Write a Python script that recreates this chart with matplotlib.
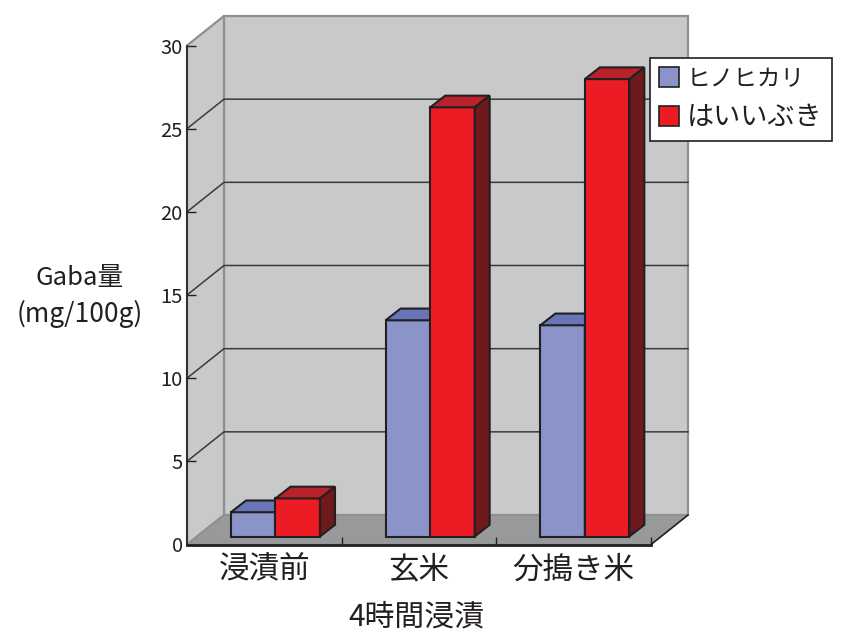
import matplotlib
matplotlib.use('Agg')
import matplotlib.pyplot as plt

plt.rcParams['font.family'] = ['Noto Sans CJK JP', 'DejaVu Sans']

#Chart values
categories = ['浸漬前', '玄米', '分搗き米']
series_names = ['ヒノヒカリ', 'はいいぶき']
hinohikari = [1.46, 13.0, 12.7]
haiibuki = [2.29, 25.8, 27.5]
y_ticks = [0, 5, 10, 15, 20, 25, 30]

#Figure size and pixel layout of the front plane
W, H = 845, 634
left, right, bottom, top = 187, 651, 544.5, 45.5
px_x = (right - left) / 3
px_y = (bottom - top) / 30

#Depth of the box and of the bars, in data units
depth_x, depth_y = 37 / px_x, 29.5 / px_y
base_y = 8 / px_y
bar_x, bar_y = 15 / px_x, 11.7 / px_y
bar_w = 44.5 / px_x
n = len(categories)

wall = '#c8c9cb'
floor = '#98999b'
edge = '#8e8f91'
dark = '#231f20'

fig = plt.figure(figsize=(W / 100, H / 100), dpi=100)
ax = fig.add_axes([left / W, 1 - bottom / H, (right - left) / W, (bottom - top) / H])
ax.patch.set_visible(False)
ax.set_xlim(0, n)
ax.set_ylim(0, 30)

#Walls and floor
ax.fill([depth_x, n + depth_x, n + depth_x, depth_x],
        [depth_y, depth_y, 30 + depth_y, 30 + depth_y],
        facecolor=wall, edgecolor=edge, lw=1.6, clip_on=False, zorder=0)
ax.fill([0, depth_x, depth_x, 0], [0, depth_y, 30 + depth_y, 30],
        facecolor=wall, edgecolor=edge, lw=1.6, clip_on=False, zorder=0)
ax.fill([0, n, n + depth_x, depth_x], [0, 0, depth_y, depth_y],
        facecolor=floor, edgecolor=edge, lw=1.2, clip_on=False, zorder=0.5)
ax.plot([n, n + depth_x], [0, depth_y], color=dark, lw=1.1, clip_on=False, zorder=0.6)

#Grid lines run along the side wall and the back wall
for v in y_ticks[1:-1]:
    ax.plot([0, depth_x, n + depth_x], [v, v + depth_y, v + depth_y],
            color='#3a3a3c', lw=1.1, clip_on=False, zorder=0.7)


def draw_bars(lefts, values, front, top_c, side):
    ax.bar(lefts, values, bar_w, bottom=base_y, align='edge', color=front,
           edgecolor=dark, lw=1.5, clip_on=False, zorder=3)
    for x0, v in zip(lefts, values):
        x1 = x0 + bar_w
        y0, y1 = base_y, base_y + v
        ax.fill([x0, x1, x1 + bar_x, x0 + bar_x], [y1, y1, y1 + bar_y, y1 + bar_y],
                facecolor=top_c, edgecolor=dark, lw=1.5, clip_on=False, zorder=3)
        ax.fill([x1, x1 + bar_x, x1 + bar_x, x1], [y0, y0 + bar_y, y1 + bar_y, y1],
                facecolor=side, edgecolor=dark, lw=1.5, clip_on=False, zorder=3)


blue_x = [i + 44 / px_x for i in range(n)]
red_x = [x + bar_w for x in blue_x]
draw_bars(blue_x, hinohikari, '#8a94c8', '#6a74b8', '#4d5590')
draw_bars(red_x, haiibuki, '#ed1c24', '#b8232b', '#6e1a1c')

#Axes, ticks and labels
for s in ['top', 'right']:
    ax.spines[s].set_visible(False)
ax.spines['left'].set_color(dark)
ax.spines['left'].set_linewidth(1.2)
ax.spines['bottom'].set_color(dark)
ax.spines['bottom'].set_linewidth(2)
ax.set_yticks(y_ticks)
ax.tick_params(axis='y', direction='in', length=6.5, width=1, color=dark,
               labelsize=14.5, labelcolor=dark, pad=3)
ax.set_xticks(range(1, n + 1))
ax.set_xticklabels([])
ax.tick_params(axis='x', direction='in', length=6, width=1, color=dark)
ax.set_xticks([i + 0.5 for i in range(n)], labels=categories, minor=True)
ax.tick_params(axis='x', which='minor', length=0, labelsize=22, labelcolor=dark, pad=7)

fig.text(416 / W, 1 - 617 / H, '4時間浸漬', fontsize=21.5, color=dark, ha='center', va='center')
fig.text(80 / W, 1 - 278 / H, 'Gaba量', fontsize=18.5, color=dark, ha='center', va='center')
fig.text(80 / W, 1 - 314 / H, '(mg/100g)', fontsize=19, color=dark, ha='center', va='center')

#Legend
handles = [plt.Rectangle((0, 0), 1, 1, facecolor=c, edgecolor=dark, lw=1.2)
           for c in ['#8a94c8', '#ed1c24']]
leg = fig.legend(handles, series_names, loc='upper left',
                 bbox_to_anchor=(650 / W, 1 - 58 / H), bbox_transform=fig.transFigure,
                 fontsize=19.5, frameon=True, fancybox=False, framealpha=1,
                 edgecolor=dark, borderpad=0.35, borderaxespad=0, handlelength=0.72,
                 handleheight=0.72, handletextpad=0.3, labelspacing=0.47, labelcolor=dark)
leg.get_frame().set_linewidth(1.2)
leg.get_texts()[0].set_fontsize(17)

fig.savefig('out.png', dpi=100)
